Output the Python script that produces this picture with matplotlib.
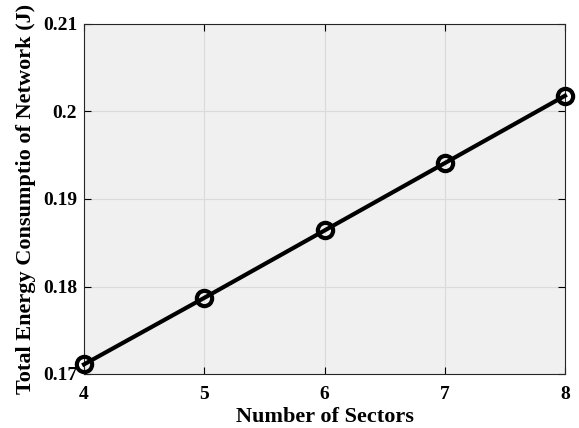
import numpy as np
import matplotlib.pyplot as plt

# data
sectors = [4, 5, 6, 7, 8]
energy = [0.1711, 0.1787, 0.1864, 0.1941, 0.2018]
yticks = [0.17, 0.18, 0.19, 0.2, 0.21]
yticklabels = ['0.17', '0.18', '0.19', '0.2', '0.21']

plt.rcParams['font.family'] = ['Liberation Serif', 'DejaVu Serif']
plt.rcParams['font.weight'] = 'bold'

fig = plt.figure(figsize=(5.79, 4.28), dpi=100)
ax = fig.add_axes([84/579, 1 - 374/428, (565-84)/579, (374-24)/428])
ax.set_facecolor('#f0f0f0')

ax.plot(sectors, energy, '-o', color='k', lw=3, ms=11, mew=3,
        mfc='none', clip_on=False, zorder=3)

ax.set_xlim(4, 8)
ax.set_ylim(0.17, 0.21)
ax.set_xticks(sectors)
ax.set_yticks(yticks)
ax.set_yticklabels(yticklabels)
ax.grid(True, color='#dadada', lw=0.8)
ax.set_axisbelow(True)
ax.tick_params(direction='in', top=True, right=True, length=5, width=0.8,
               labelsize=14)
ax.tick_params(axis='x', pad=8.5)
ax.tick_params(axis='y', pad=5)
for s in ax.spines.values():
    s.set_color('#262626')
    s.set_linewidth(0.8)

ax.set_xlabel('Number of Sectors', fontsize=16, fontweight='bold', labelpad=3)
ax.set_ylabel('Total Energy Consumptio of Network (J)', fontsize=16,
              fontweight='bold', labelpad=5)

fig.savefig('out.png', dpi=100)
